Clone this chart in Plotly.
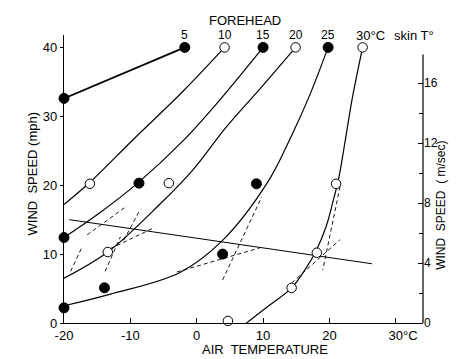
import plotly.graph_objects as go

# ---------------- data ----------------
skin_temps = [5, 10, 15, 20, 25, 30]
filled = [True, False, True, False, True, False]

# smooth curves (air temperature, wind speed mph)
curve_x = {
    5:  [-20, -1.8],
    10: [-20, -16, -9.6, -2.1, 4.2],
    15: [-20, -14.6, -8.9, -2, 3.5, 10],
    20: [-20, -13.4, -5.6, -0.6, 4.5, 10, 14.9],
    25: [-20, -13, -2.6, 3.9, 10.6, 14.2, 17, 19.8],
    30: [7.5, 11, 14.3, 16.5, 18, 19.5, 20.5, 21.4, 22.3, 23.4, 25],
}
curve_y = {
    5:  [32.6, 40],
    10: [17.2, 20.5, 26.6, 33.6, 40],
    15: [12.4, 16, 20.3, 26.5, 32.4, 40],
    20: [6.5, 10.3, 17.2, 22.2, 28.5, 34.5, 40],
    25: [2.5, 4.2, 7.3, 12, 20.3, 27, 33, 40],
    30: [0, 2.6, 5.1, 8, 10.5, 14, 17.5, 21, 26, 32.4, 40],
}

# measured points
point_x = {
    5:  [-20, -1.8],
    10: [-16.1, 4.2],
    15: [-20, -8.7, 10],
    20: [-13.4, -4.2, 14.9],
    25: [-20, -13.9, 3.9, 9.0, 19.8],
    30: [4.7, 14.3, 18.1, 21, 25],
}
point_y = {
    5:  [32.6, 40],
    10: [20.2, 40],
    15: [12.4, 20.3, 40],
    20: [10.3, 20.3, 40],
    25: [2.2, 5.1, 10.0, 20.2, 40],
    30: [0.3, 5.1, 10.2, 20.2, 40],
}

# straight reference line
line_x = [-19.2, 26.4]
line_y = [15.0, 8.6]

# dashed segments (x0, x1), (y0, y1)
dash_x = [[-3.0, 9.5], [3.9, 9.8], [21.6, 19.0], [14.3, 21.6],
          [-16.5, -10.5], [-13.0, -6.5], [-13.8, -11.5], [-19.0, -17.3],
          [-11.0, -8.5]]
dash_y = [[7.4, 10.9], [6.25, 18.3], [19.8, 7.7], [5.8, 12.1],
          [12.8, 17.0], [10.8, 13.8], [7.5, 12.5], [7.5, 11.0],
          [12.0, 16.5]]

x_ticks = [-20, -10, 0, 10, 20, 30]
x_ticktext = ["-20", "-10", "0", "10", "20", "\u2007\u200730°C"]
y_ticks = [0, 10, 20, 30, 40]
y2_ticks = [0, 4, 8, 12, 16]
y2_minor = [2, 6, 10, 14]

FONT = "Liberation Sans"

fig = go.Figure()

for t in skin_temps:
    fig.add_trace(go.Scatter(
        x=curve_x[t], y=curve_y[t], mode="lines",
        line=dict(color="black", width=1.7 if t == 5 else 1.2, shape="spline", smoothing=1.0),
        cliponaxis=False, showlegend=False, hoverinfo="skip"))

for x, y in zip(dash_x, dash_y):
    fig.add_trace(go.Scatter(
        x=x, y=y, mode="lines",
        line=dict(color="black", width=0.9, dash="4px,3px"),
        showlegend=False, hoverinfo="skip"))

fig.add_trace(go.Scatter(
    x=line_x, y=line_y, mode="lines",
    line=dict(color="black", width=1.0), showlegend=False, hoverinfo="skip"))

for t, f in zip(skin_temps, filled):
    fig.add_trace(go.Scatter(
        x=point_x[t], y=point_y[t], mode="markers",
        marker=dict(size=10 if f else 9.5, color="black" if f else "white",
                    line=dict(color="black", width=1)),
        cliponaxis=False, showlegend=False))

# invisible trace on the right axis
fig.add_trace(go.Scatter(x=[-20], y=[0], yaxis="y2", mode="markers",
                         marker=dict(opacity=0), showlegend=False, hoverinfo="skip"))

# labels above the top points
for t in skin_temps[:-1]:
    fig.add_annotation(x=point_x[t][-1], y=1.0, yref="paper", text=str(t),
                       showarrow=False, yanchor="middle",
                       font=dict(family=FONT, size=12, color="black"))
fig.add_annotation(x=point_x[30][-1], y=1.0, yref="paper", text="30°C",
                   showarrow=False, yanchor="middle", xanchor="left", xshift=-9,
                   font=dict(family=FONT, size=13, color="black"))
fig.add_annotation(x=30.2, y=1.0, yref="paper", text="skin T°",
                   showarrow=False, yanchor="middle", xanchor="left", xshift=-5,
                   font=dict(family=FONT, size=13, color="black"))
fig.add_annotation(x=0.504, y=1.052, xref="paper", yref="paper", text="FOREHEAD",
                   showarrow=False, yanchor="middle",
                   font=dict(family=FONT, size=13, color="black"))

# axis titles
fig.add_annotation(x=0.56, y=-0.122, xref="paper", yref="paper", text="AIR  TEMPERATURE",
                   showarrow=False, yanchor="bottom", borderpad=0,
                   font=dict(family=FONT, size=13, color="black"))
fig.add_annotation(x=-0.115, y=0.52, xref="paper", yref="paper", text="WIND  SPEED (mph)",
                   showarrow=False, textangle=-90,
                   font=dict(family=FONT, size=13, color="black"))
fig.add_annotation(x=1.075, y=0.41, xref="paper", yref="paper", text="WIND  SPEED  ( m/sec)",
                   showarrow=False, textangle=-90,
                   font=dict(family=FONT, size=12, color="black"))

# right axis line
fig.add_shape(type="line", xref="paper", x0=1, x1=1, yref="y2", y0=0, y1=17.9,
              line=dict(color="black", width=1.2))

# the page body adds an 8px offset; the figure is sized to compensate
fig.update_layout(
    width=449, height=351,
    margin=dict(l=56, r=34, t=27, b=36),
    paper_bgcolor="white", plot_bgcolor="white",
    font=dict(family=FONT, size=12, color="black"),
    xaxis=dict(range=[-20, 34.1], tickvals=x_ticks, ticktext=x_ticktext,
               showgrid=False, zeroline=False, showline=True, linecolor="black",
               linewidth=1.2, ticks="inside", ticklen=5, tickcolor="black",
               tickfont=dict(family=FONT, size=13)),
    yaxis=dict(range=[0, 41.8], tickvals=y_ticks, showgrid=False, zeroline=False,
               showline=True, linecolor="black", linewidth=1.2,
               ticks="outside", ticklen=3, tickcolor="black",
               tickfont=dict(family=FONT, size=13)),
    yaxis2=dict(range=[0, 19.2], overlaying="y", side="right", tickvals=y2_ticks,
                showgrid=False, zeroline=False, showline=False,
                ticks="inside", ticklen=5, tickcolor="black",
                minor=dict(tickvals=y2_minor, ticks="inside", ticklen=4, tickcolor="black"),
                tickfont=dict(family=FONT, size=12)),
)

fig.write_html("out.html")
